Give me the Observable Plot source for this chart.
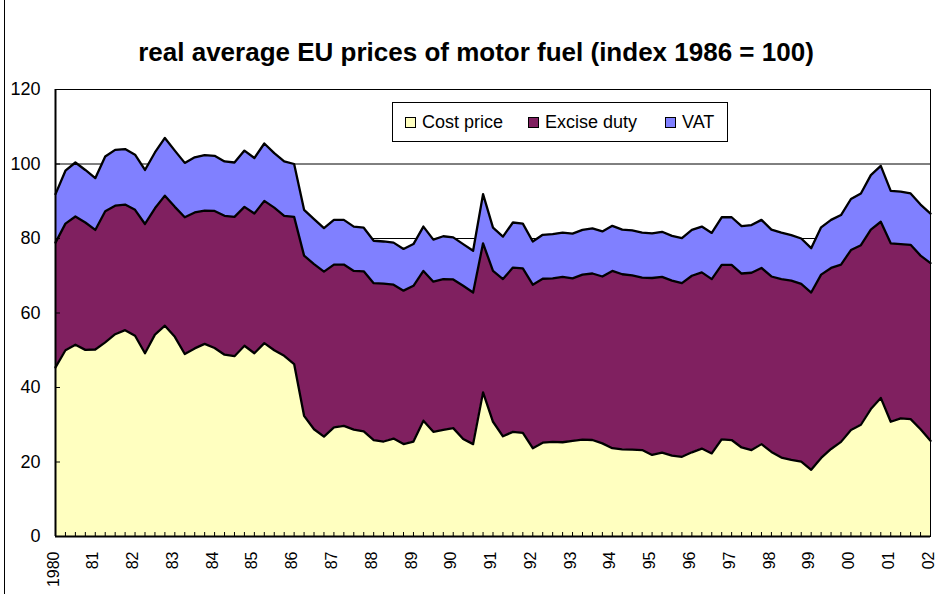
<!DOCTYPE html>
<html>
<head>
<meta charset="utf-8">
<script src="https://cdn.jsdelivr.net/npm/d3@7"></script>
<script src="https://cdn.jsdelivr.net/npm/@observablehq/plot@0.6"></script>
<style>
  html, body { margin: 0; padding: 0; background: #fff; }
  #chart { position: relative; width: 937px; height: 594px; overflow: hidden; font-family: "Liberation Sans", Arial, sans-serif; }
  #outer-left { position: absolute; left: 4px; top: 0; width: 1px; height: 594px; background: #000; }
  #legend { position: absolute; left: 392px; top: 102px; width: 334px; height: 38px; border: 1px solid #000; background: #fff;
            display: flex; align-items: center; font-size: 18px; color: #000; }
  #legend .item { display: flex; align-items: center; position: absolute; top: 9px; }
  #legend .sw { width: 9px; height: 9px; border: 1px solid #000; margin-right: 6px; }
</style>
</head>
<body>
<div id="chart"><div id="outer-left"></div></div>
<script>
// ---- data (quarterly, 1980 Q1 .. 2002 Q1), index 1986 = 100 ----
const title = "real average EU prices of motor fuel (index 1986 = 100)";
const seriesNames = ["Cost price", "Excise duty", "VAT"];
const seriesColors = ["#FFFFC0", "#802060", "#8080FF"];
const yTicks = [0, 20, 40, 60, 80, 100, 120];
const yearTicks = [1980,1981,1982,1983,1984,1985,1986,1987,1988,1989,1990,1991,1992,1993,1994,1995,1996,1997,1998,1999,2000,2001,2002];

const costPrice = [
  45.4, 50.0, 51.5, 50.1, 50.2, 52.1, 54.3, 55.4, 53.9, 49.2, 54.2, 56.6, 53.6, 49.0, 50.5, 51.7,
  50.6, 48.8, 48.4, 51.2, 49.2, 51.9, 50.0, 48.5, 46.3, 32.4, 28.8, 26.8, 29.3, 29.7, 28.7, 28.2,
  25.9, 25.5, 26.3, 24.8, 25.5, 31.1, 28.1, 28.6, 29.1, 26.2, 24.8, 38.7, 30.8, 26.9, 28.1, 27.8,
  23.7, 25.2, 25.4, 25.3, 25.7, 26.0, 25.9, 25.0, 23.7, 23.4, 23.3, 23.2, 21.9, 22.5, 21.7, 21.4,
  22.6, 23.6, 22.3, 26.1, 25.9, 23.9, 23.2, 24.8, 22.7, 21.2, 20.6, 20.1, 17.9, 21.1, 23.5, 25.4,
  28.6, 30.0, 34.2, 37.2, 30.8, 31.7, 31.5, 28.8, 25.7
];
const exciseDuty = [
  33.5, 34.0, 34.4, 34.2, 32.1, 35.2, 34.5, 33.7, 33.8, 34.7, 33.9, 34.9, 34.9, 36.7, 36.5, 35.8,
  36.8, 37.3, 37.4, 37.3, 37.5, 38.2, 38.3, 37.6, 39.5, 43.0, 44.3, 44.3, 43.7, 43.3, 42.6, 43.0,
  42.1, 42.4, 41.3, 41.2, 41.8, 40.2, 40.3, 40.5, 39.9, 41.1, 40.7, 40.0, 40.5, 42.2, 44.1, 44.2,
  43.9, 44.0, 43.9, 44.4, 43.6, 44.3, 44.7, 44.8, 47.6, 47.0, 46.8, 46.3, 47.5, 47.2, 47.0, 46.6,
  47.4, 47.3, 46.8, 46.8, 47.0, 46.7, 47.6, 47.3, 47.1, 47.9, 48.1, 47.7, 47.6, 49.2, 48.6, 47.6,
  48.3, 48.2, 48.2, 47.3, 47.9, 46.8, 46.8, 46.6, 47.7
];
const vat = [
  13.0, 14.2, 14.5, 14.1, 13.9, 14.7, 15.0, 14.9, 14.8, 14.5, 15.0, 15.5, 15.1, 14.6, 14.8, 14.9,
  14.8, 14.6, 14.6, 15.1, 14.9, 15.4, 14.6, 14.6, 14.2, 12.3, 12.1, 11.7, 12.0, 12.0, 11.9, 11.7,
  11.4, 11.3, 11.3, 11.2, 11.2, 11.9, 11.3, 11.5, 11.3, 11.2, 11.2, 13.2, 11.6, 11.4, 12.1, 12.0,
  11.6, 11.8, 11.9, 11.9, 12.0, 12.0, 12.1, 12.1, 12.1, 12.0, 12.1, 12.1, 12.0, 12.1, 12.0, 12.1,
  12.3, 12.3, 12.4, 12.8, 12.8, 12.7, 12.8, 12.9, 12.6, 12.5, 12.2, 12.2, 11.9, 12.7, 12.9, 13.3,
  13.7, 13.9, 14.6, 15.0, 14.1, 14.1, 13.8, 13.7, 13.3
];

// ---- long table for the library ----
const periods = Array.from(costPrice, (_, i) => 1980 + i / 4);
const seriesValues = [costPrice, exciseDuty, vat];
const table = [];
seriesNames.forEach((name, s) => {
  periods.forEach((t, i) => table.push({series: name, t, value: seriesValues[s][i]}));
});

const fmtYear = d => d === 1980 ? "1980" : String(d % 100).padStart(2, "0");

const chart = Plot.plot({
  width: 937,
  height: 594,
  marginLeft: 55,
  marginRight: 7,
  marginTop: 89,
  marginBottom: 58,
  style: {fontFamily: "'Liberation Sans', Arial, sans-serif", fontSize: "18px", color: "#000", background: "transparent", overflow: "visible"},
  x: {domain: [1980, 2002], label: null},
  y: {domain: [0, 120], label: null},
  color: {domain: seriesNames, range: seriesColors},
  marks: [
    Plot.gridY(yTicks, {stroke: "#000", strokeOpacity: 1, strokeWidth: 1}),
    Plot.areaY(table, {x: "t", y: "value", z: "series", fill: "series", order: seriesNames, fillOpacity: 1}),
    Plot.lineY(table, Plot.stackY2({x: "t", y: "value", z: "series", order: seriesNames, stroke: "#000", strokeWidth: 2.3, strokeLinejoin: "round"})),
    Plot.frame({stroke: "#000", strokeWidth: 1}),
    Plot.ruleX([1980], {stroke: "#000", strokeWidth: 2}),
    Plot.ruleY([0], {stroke: "#000", strokeWidth: 2}),
    Plot.axisX({ticks: periods, tickSize: -4, text: null, strokeWidth: 1}),
    Plot.axisX({ticks: yearTicks, tickSize: 0, tickPadding: 15, tickRotate: -90, tickFormat: fmtYear, fontSize: 16, dx: -2, label: null}),
    Plot.axisY({ticks: yTicks, tickSize: -5, text: null, strokeWidth: 1}),
    Plot.axisY({ticks: yTicks, tickSize: 0, tickPadding: 15, tickFormat: d => String(d), fontSize: 18, label: null}),
    Plot.text([title], {frameAnchor: "top", dy: -47, dx: -17, fontSize: 26, fontWeight: "bold", fill: "#000"})
  ]
});
const host = document.getElementById("chart");
host.appendChild(chart);

// ---- legend (HTML overlay) ----
const legend = document.createElement("div");
legend.id = "legend";
const legendX = [12, 135, 272];
seriesNames.forEach((name, i) => {
  const item = document.createElement("div");
  item.className = "item";
  item.style.left = legendX[i] + "px";
  const sw = document.createElement("span");
  sw.className = "sw";
  sw.style.background = seriesColors[i];
  const label = document.createElement("span");
  label.textContent = name;
  item.appendChild(sw);
  item.appendChild(label);
  legend.appendChild(item);
});
host.appendChild(legend);
</script>
</body>
</html>
